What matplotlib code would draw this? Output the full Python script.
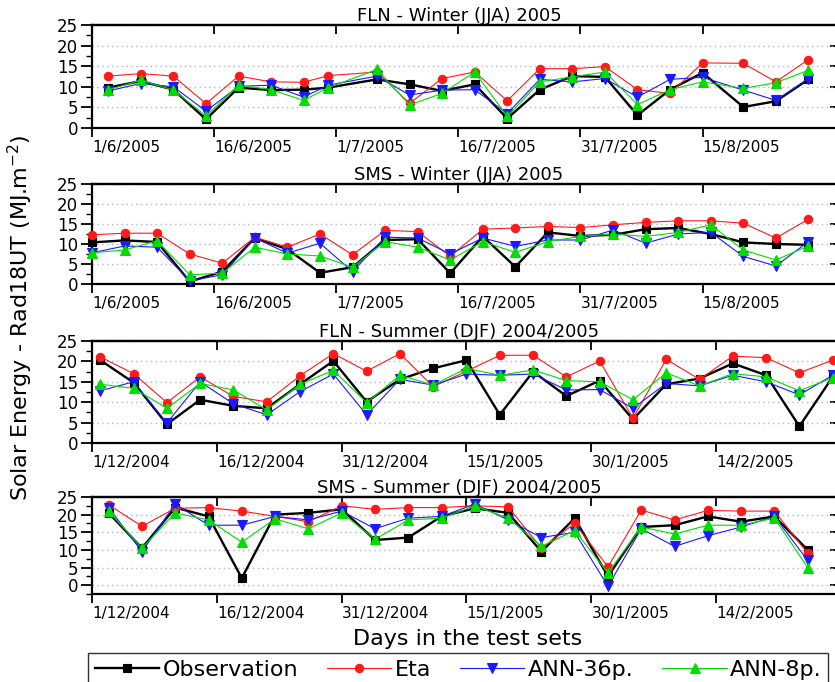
import matplotlib
matplotlib.use('Agg')
import matplotlib.pyplot as plt
from matplotlib.ticker import MultipleLocator
import matplotlib.dates as mdates
import matplotlib.transforms as mtransforms
import pandas as pd

plt.rcParams['font.family'] = ['DejaVu Sans']

# ---------------- data ----------------
series_labels = ['Observation', 'Eta', 'ANN-36p.', 'ANN-8p.']

winter_ticks = ['1/6/2005', '16/6/2005', '1/7/2005', '16/7/2005', '31/7/2005', '15/8/2005']
summer_ticks = ['1/12/2004', '16/12/2004', '31/12/2004', '15/1/2005', '30/1/2005', '14/2/2005']

# Panel 1: FLN - Winter (JJA) 2005
fln_w_dates = ['3/6/2005', '7/6/2005', '11/6/2005', '15/6/2005', '19/6/2005', '23/6/2005',
               '27/6/2005', '30/6/2005', '6/7/2005', '10/7/2005', '14/7/2005', '18/7/2005',
               '22/7/2005', '26/7/2005', '30/7/2005', '3/8/2005', '7/8/2005', '11/8/2005',
               '15/8/2005', '20/8/2005', '24/8/2005', '28/8/2005']
fln_w_obs = [9.8, 11.4, 9.3, 2.1, 9.8, 9.2, 9.3, 9.8, 11.8, 10.6, 9.0, 10.6, 2.3, 9.3,
             12.6, 12.4, 3.1, 9.3, 13.4, 5.1, 6.5, 11.8]
fln_w_eta = [12.6, 13.2, 12.6, 5.9, 12.6, 11.2, 11.1, 12.7, 13.6, 6.0, 12.0, 13.6, 6.6, 14.4,
             14.4, 14.9, 9.3, 8.4, 15.8, 15.7, 11.2, 16.6]
fln_w_ann36 = [9.0, 10.8, 10.0, 4.1, 10.1, 10.4, 7.5, 10.4, 12.6, 8.0, 9.2, 9.3, 3.5, 11.8,
               11.2, 12.0, 7.5, 11.8, 12.3, 9.2, 6.7, 12.0]
fln_w_ann8 = [9.3, 11.6, 9.2, 2.9, 10.4, 9.3, 6.7, 9.8, 14.2, 5.6, 8.4, 13.6, 2.8, 11.2,
              12.4, 13.6, 5.7, 9.3, 11.2, 9.6, 11.0, 14.0]

# Panel 2: SMS - Winter (JJA) 2005
sms_w_dates = ['1/6/2005', '5/6/2005', '9/6/2005', '13/6/2005', '17/6/2005', '21/6/2005',
               '25/6/2005', '29/6/2005', '3/7/2005', '7/7/2005', '11/7/2005', '15/7/2005',
               '19/7/2005', '23/7/2005', '27/7/2005', '31/7/2005', '4/8/2005', '8/8/2005',
               '12/8/2005', '16/8/2005', '20/8/2005', '24/8/2005', '28/8/2005']
sms_w_obs = [10.4, 10.9, 10.5, 0.6, 3.1, 11.5, 8.7, 2.8, 4.2, 11.0, 11.2, 2.7, 11.9, 4.3,
             12.9, 12.0, 12.3, 13.7, 14.0, 12.5, 10.4, 10.0, 9.8]
sms_w_eta = [12.3, 12.7, 12.7, 7.5, 5.2, 11.7, 9.2, 12.5, 7.3, 13.4, 13.1, 6.9, 13.7, 14.0,
             14.4, 14.1, 14.8, 15.4, 15.8, 15.8, 15.2, 11.5, 16.2]
sms_w_ann36 = [7.8, 9.5, 9.2, 0.8, 2.3, 11.5, 7.7, 10.2, 3.1, 11.7, 11.5, 7.5, 11.5, 9.4,
               11.0, 11.0, 13.5, 10.2, 12.5, 12.9, 6.9, 4.5, 10.6]
sms_w_ann8 = [7.8, 8.5, 10.8, 2.3, 2.7, 9.2, 7.5, 7.0, 4.2, 10.6, 9.2, 6.0, 10.6, 7.9,
              10.6, 11.9, 12.5, 11.9, 12.9, 14.8, 8.5, 6.0, 9.5]

# Panel 3: FLN - Summer (DJF) 2004/2005
fln_s_dates = ['2/12/2004', '6/12/2004', '10/12/2004', '14/12/2004', '18/12/2004', '22/12/2004',
               '26/12/2004', '30/12/2004', '3/1/2005', '7/1/2005', '11/1/2005', '15/1/2005',
               '19/1/2005', '23/1/2005', '27/1/2005', '31/1/2005', '4/2/2005', '8/2/2005',
               '12/2/2005', '16/2/2005', '20/2/2005', '24/2/2005', '28/2/2005']
fln_s_obs = [20.3, 14.8, 4.6, 10.6, 9.1, 8.5, 14.4, 20.1, 10.1, 15.6, 18.3, 20.3, 6.9, 17.5,
             11.5, 15.3, 5.8, 14.4, 15.8, 19.5, 16.6, 4.1, 16.2]
fln_s_eta = [21.1, 17.0, 9.9, 16.2, 11.4, 10.1, 16.5, 21.9, 17.6, 21.9, 13.8, 17.6, 21.5, 21.5,
             16.2, 20.1, 6.1, 20.5, 15.6, 21.3, 20.9, 17.2, 20.3]
fln_s_ann36 = [12.8, 15.0, 4.9, 15.0, 9.6, 6.9, 12.6, 16.9, 6.9, 15.6, 14.2, 16.9, 16.6, 16.9,
               13.0, 13.1, 8.5, 14.6, 14.0, 16.6, 15.0, 11.8, 16.6]
fln_s_ann8 = [14.4, 13.4, 8.5, 14.6, 13.0, 8.1, 14.4, 17.8, 9.9, 16.6, 14.2, 18.3, 16.6, 17.9,
              15.3, 15.0, 10.6, 17.2, 14.0, 17.0, 16.2, 12.8, 16.0]

# Panel 4: SMS - Summer (DJF) 2004/2005
sms_s_dates = ['3/12/2004', '7/12/2004', '11/12/2004', '15/12/2004', '19/12/2004', '23/12/2004',
               '27/12/2004', '31/12/2004', '4/1/2005', '8/1/2005', '12/1/2005', '16/1/2005',
               '20/1/2005', '24/1/2005', '28/1/2005', '1/2/2005', '5/2/2005', '9/2/2005',
               '13/2/2005', '17/2/2005', '21/2/2005', '25/2/2005']
sms_s_obs = [20.5, 10.5, 22.0, 19.5, 2.0, 20.0, 20.5, 21.5, 12.8, 13.5, 19.5, 21.8, 20.5, 9.5,
             19.0, 2.5, 16.5, 17.0, 19.5, 18.0, 19.5, 10.0]
sms_s_eta = [22.8, 16.7, 21.8, 22.0, 21.0, 19.5, 18.0, 22.5, 21.5, 22.0, 22.0, 22.5, 22.2, 10.5,
             17.5, 5.2, 21.3, 18.5, 21.2, 21.0, 21.0, 9.0]
sms_s_ann36 = [22.0, 9.5, 23.0, 17.0, 17.0, 19.5, 18.5, 21.0, 16.0, 19.0, 19.5, 23.0, 18.5, 13.5,
               15.0, -0.3, 16.0, 11.0, 14.0, 16.5, 19.5, 7.0]
sms_s_ann8 = [21.0, 10.5, 20.5, 18.5, 12.2, 18.8, 16.0, 20.5, 13.0, 18.5, 19.0, 22.5, 19.0, 11.0,
              15.5, 3.5, 16.5, 14.5, 17.0, 17.0, 19.0, 5.0]

panels = [
    dict(title='FLN - Winter (JJA) 2005', dates=fln_w_dates,
         series=[fln_w_obs, fln_w_eta, fln_w_ann36, fln_w_ann8],
         ticks=winter_ticks, xlim=('1/6/2005', '1/9/2005'), ylim=(0, 25)),
    dict(title='SMS - Winter (JJA) 2005', dates=sms_w_dates,
         series=[sms_w_obs, sms_w_eta, sms_w_ann36, sms_w_ann8],
         ticks=winter_ticks, xlim=('1/6/2005', '1/9/2005'), ylim=(0, 25)),
    dict(title='FLN - Summer (DJF) 2004/2005', dates=fln_s_dates,
         series=[fln_s_obs, fln_s_eta, fln_s_ann36, fln_s_ann8],
         ticks=summer_ticks, xlim=('1/12/2004', '1/3/2005'), ylim=(0, 25)),
    dict(title='SMS - Summer (DJF) 2004/2005', dates=sms_s_dates,
         series=[sms_s_obs, sms_s_eta, sms_s_ann36, sms_s_ann8],
         ticks=summer_ticks, xlim=('1/12/2004', '1/3/2005'), ylim=(-2.5, 25)),
]

# ---------------- styles / layout ----------------
styles = [
    dict(color='black', lw=1.7, marker='s', ms=6.0, zorder=3),
    dict(color='#ff1a1a', lw=0.8, marker='o', ms=6.0, zorder=4),
    dict(color='#1a1aff', lw=0.8, marker='v', ms=6.5, zorder=5),
    dict(color='#00dd00', lw=0.8, marker='^', ms=6.5, zorder=6),
]

W, H = 835, 682
# (top, bottom) pixel rows of each axes box
boxes = [(25, 128), (184, 284), (341, 443), (497, 594)]
left_px, right_px = 92, 841


def to_num(strs):
    return mdates.date2num(pd.to_datetime(strs, format='%d/%m/%Y'))


fig = plt.figure(figsize=(W / 100, H / 100), dpi=100)
label_shift = mtransforms.ScaledTranslation(-3 / 100, 0, fig.dpi_scale_trans)

handles = None
for p, (top, bot) in zip(panels, boxes):
    ax = fig.add_axes([left_px / W, 1 - bot / H, (right_px - left_px) / W, (bot - top) / H])
    x = to_num(p['dates'])
    hs = []
    for vals, st, lab in zip(p['series'], styles, series_labels):
        h, = ax.plot(x, vals, color=st['color'], lw=st['lw'], marker=st['marker'],
                     ms=st['ms'], mfc=st['color'], mec=st['color'], mew=0.8,
                     label=lab, zorder=st['zorder'], clip_on=False)
        hs.append(h)
    if handles is None:
        handles = hs
    xl = to_num(list(p['xlim']))
    ax.set_xlim(xl[0], xl[1])
    ax.set_ylim(*p['ylim'])
    tn = to_num(p['ticks'])
    ax.set_xticks(tn)
    ax.set_xticklabels(p['ticks'])
    for lab in ax.get_xticklabels():
        lab.set_horizontalalignment('left')
        lab.set_transform(lab.get_transform() + label_shift)
    ax.yaxis.set_major_locator(MultipleLocator(5))
    ax.yaxis.set_minor_locator(MultipleLocator(2.5))
    ax.set_yticks([v for v in range(0, 30, 5)])
    ax.tick_params(axis='x', which='major', direction='out', length=6.5, width=1.3,
                   labelsize=11, pad=2, top=False)
    ax.tick_params(axis='y', which='major', direction='out', length=8, width=1.3,
                   labelsize=12, pad=2, right=False)
    ax.tick_params(axis='y', which='minor', direction='out', length=4.5, width=1.0, right=False)
    for s in ax.spines.values():
        s.set_linewidth(1.6)
    ax.grid(axis='y', which='major', linestyle=(0, (1, 2.5)), color='#b4b4c4', linewidth=1.0)
    ax.set_axisbelow(True)
    # mirrored top / right ticks pointing inward
    sx = ax.secondary_xaxis('top')
    sx.set_xticks(tn)
    sx.tick_params(direction='in', length=6.5, width=1.3, labeltop=False)
    sx.spines['top'].set_linewidth(1.6)
    sy = ax.secondary_yaxis('right')
    sy.yaxis.set_major_locator(MultipleLocator(5))
    sy.yaxis.set_minor_locator(MultipleLocator(2.5))
    sy.tick_params(which='major', direction='in', length=8, width=1.3, labelright=False)
    sy.tick_params(which='minor', direction='in', length=4.5, width=1.0)
    sy.spines['right'].set_linewidth(1.6)
    ax.set_title(p['title'], fontsize=13, pad=1.5, x=0.49)

fig.text(20 / W, 1 - 318 / H, r'Solar Energy - Rad18UT (MJ.m$^{-2}$)', rotation=90,
         ha='center', va='center', fontsize=16)
fig.text(468 / W, 1 - 639 / H, 'Days in the test sets', ha='center', va='center', fontsize=16)

leg = fig.legend(handles, series_labels, loc='upper left',
                 bbox_to_anchor=(88 / W, 1 - 653 / H), ncol=4, frameon=True, fancybox=False,
                 edgecolor='black', fontsize=16, handlelength=2.9, handletextpad=0.15,
                 columnspacing=1.3, borderpad=0.3, borderaxespad=0)
leg.get_frame().set_linewidth(1.0)

fig.savefig('out.png', dpi=100)
